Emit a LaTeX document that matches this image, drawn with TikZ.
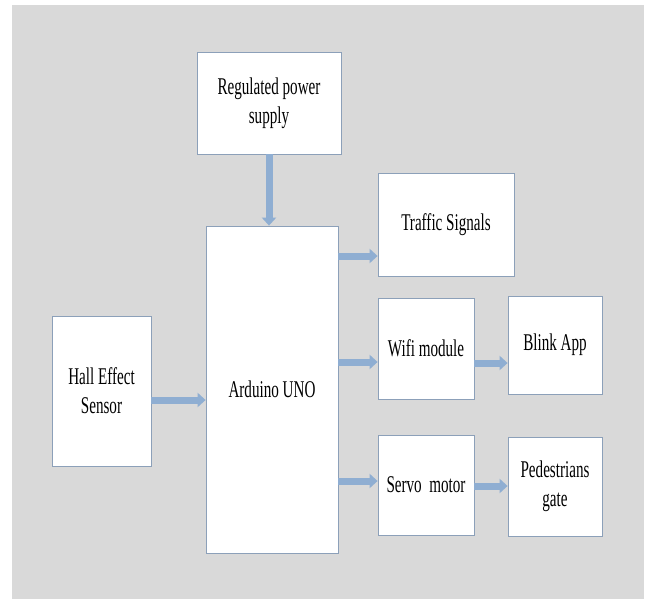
\documentclass[tikz,border=0pt]{standalone}
\usepackage{fontspec}
\setmainfont{Liberation Serif}[FakeStretch=0.63]
\usetikzlibrary{arrows.meta}

\definecolor{paper}{RGB}{217,217,217}
\definecolor{boxline}{RGB}{140,160,185}
\definecolor{flowblue}{RGB}{143,174,210}

\tikzset{
	block/.style = {draw = boxline, line width = 0.8pt, fill = white,
		align = center, inner sep = 0pt,
		font = \fontsize{24}{29}\selectfont},
	flow/.style = {draw = flowblue, line width = 7pt,
		-{Triangle[width = 14pt, length = 8pt]}}
}

\begin{document}
\begin{tikzpicture}[x = 1pt, y = -1pt]
	
	\useasboundingbox (0,0) rectangle (650,599);
	\fill[paper] (12,5) rectangle (644,599);
	
	\node [block, minimum width = 144, minimum height = 102] (power) at (269,103){Regulated power\\supply};
	\node [block, minimum width = 132, minimum height = 327] (uno) at (272,389.5){Arduino UNO};
	\node [block, minimum width = 99, minimum height = 150] (hall) at (101.5,391){Hall Effect\\Sensor};
	\node [block, minimum width = 136, minimum height = 103] (traffic) at (446,224.5){Traffic Signals};
	\node [block, minimum width = 96, minimum height = 101] (wifi) at (426,348.5){Wifi module};
	\node [block, minimum width = 94, minimum height = 98] (blink) at (555,345){Blink App};
	\node [block, minimum width = 96, minimum height = 100] (servo) at (426,485){Servo\ \ motor};
	\node [block, minimum width = 94, minimum height = 99] (gate) at (555,486.5){Pedestrians\\gate};
	
	\draw[flow] (power.south) -- (power.south |- uno.north);
	\draw[flow] ([yshift = -9]hall.east) -- ([yshift = -9]hall.east -| uno.west);
	\draw[flow] (uno.east |- 0,256) -- (traffic.west |- 0,256);
	\draw[flow] (uno.east |- 0,362) -- (wifi.west |- 0,362);
	\draw[flow] (uno.east |- 0,481) -- (servo.west |- 0,481);
	\draw[flow] (wifi.east |- 0,363) -- (blink.west |- 0,363);
	\draw[flow] (servo.east |- 0,486) -- (gate.west |- 0,486);
	
\end{tikzpicture}
\end{document}
